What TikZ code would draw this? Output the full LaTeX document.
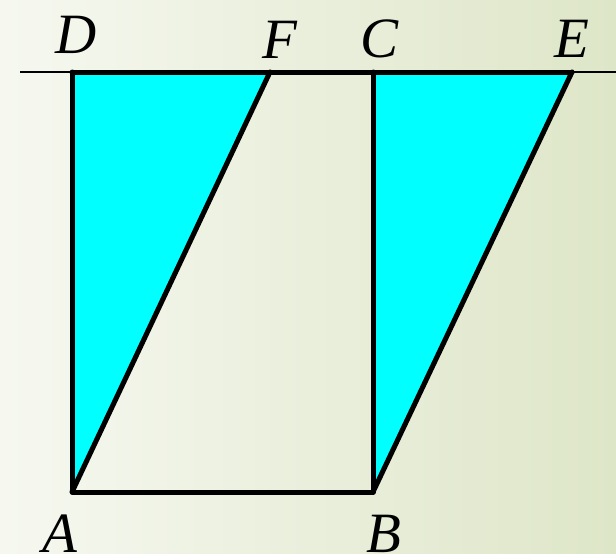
\documentclass[tikz,border=0pt]{standalone}
\usepackage{fontspec}
\setmainfont{Liberation Serif}
\definecolor{aqua}{RGB}{0,255,255}
\definecolor{bgleft}{RGB}{246,248,240}
\definecolor{bgright}{RGB}{222,230,200}
\begin{document}
\begin{tikzpicture}[x=1pt,y=-1pt,
  thickedge/.style={line width=5pt,line join=round,line cap=round},
  thinline/.style={line width=2.4pt},
  shaded/.style={fill=aqua},
  lbl/.style={anchor=base,inner sep=0pt,font=\fontsize{57}{60}\selectfont\itshape}]
\useasboundingbox (0,0) rectangle (616,554);
\shade[left color=bgleft, right color=bgright] (0,0) rectangle (616,554);
\coordinate (A) at (72,492);
\coordinate (B) at (373,492);
\coordinate (C) at (373,72);
\coordinate (D) at (72,72);
\coordinate (F) at (270,72);
\coordinate (E) at (572,72);
\coordinate (L0) at (20,72);
\coordinate (L1) at (616,72);
\fill[shaded] (A) -- (D) -- (F) -- cycle;
\fill[shaded] (B) -- (C) -- (E) -- cycle;
\draw[thinline] (L0) -- (L1);
\draw[thickedge] (D) -- (E);
\draw[thickedge] (D) -- (A) -- (B) -- (C);
\draw[thickedge] (A) -- (F);
\draw[thickedge] (B) -- (E);
\node[lbl] (lD) at (76,53) {D};
\node[lbl] (lF) at (280,58) {F};
\node[lbl] (lC) at (380,57) {C};
\node[lbl] (lE) at (572,57) {E};
\node[lbl] (lA) at (60,552) {A};
\node[lbl] (lB) at (384,552) {B};
\end{tikzpicture}
\end{document}
